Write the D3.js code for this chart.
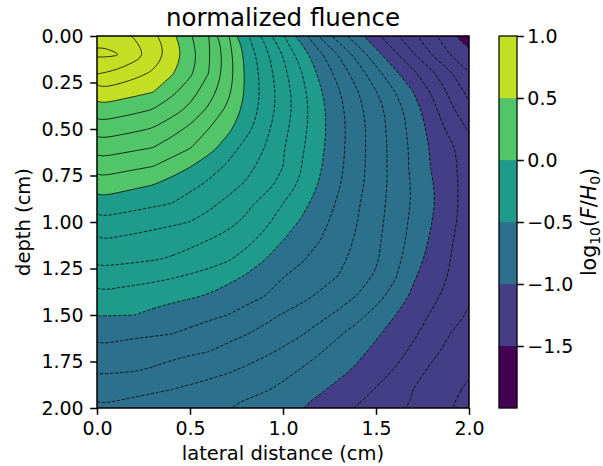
<!DOCTYPE html>
<html>
<head>
<meta charset="utf-8">
<script src="https://cdn.jsdelivr.net/npm/d3@7"></script>
<style>
  html, body { margin: 0; padding: 0; background: #fff; }
  svg { display: block; font-family: "DejaVu Sans", sans-serif; }
</style>
</head>
<body>
<svg id="chart" width="603" height="466"></svg>
<script>
// Sample positions of the fluence grid (cm)
const lateral = [0.0, 0.1, 0.2, 0.3, 0.4, 0.5, 0.6, 0.7, 0.8, 0.9, 1.0,
                 1.1, 1.2, 1.3, 1.4, 1.5, 1.6, 1.7, 1.8, 1.9, 2.0];
const depth   = [0.0, 0.1, 0.2, 0.3, 0.4, 0.5, 0.6, 0.7, 0.8, 0.9, 1.0,
                 1.1, 1.2, 1.3, 1.4, 1.5, 1.6, 1.7, 1.8, 1.9, 2.0];

// log10(F/H0), one row per depth, one column per lateral position
const logFluence = [
  [ 0.780,  0.738,  0.693,  0.627,  0.532,  0.412,  0.300,  0.120, -0.075, -0.223, -0.400, -0.545, -0.714, -0.850, -0.964, -1.077, -1.180, -1.280, -1.373, -1.478, -1.560],
  [ 0.820,  0.810,  0.745,  0.670,  0.567,  0.450,  0.314,  0.150, -0.024, -0.165, -0.306, -0.446, -0.580, -0.708, -0.835, -0.962, -1.078, -1.189, -1.300, -1.400, -1.470],
  [ 0.707,  0.678,  0.635,  0.586,  0.514,  0.420,  0.300,  0.154, -0.013, -0.141, -0.269, -0.397, -0.523, -0.636, -0.750, -0.864, -0.977, -1.080, -1.180, -1.289, -1.400],
  [ 0.578,  0.553,  0.528,  0.503,  0.425,  0.342,  0.248,  0.130, -0.012, -0.131, -0.250, -0.369, -0.488, -0.592, -0.694, -0.796, -0.898, -1.000, -1.111, -1.222, -1.330],
  [ 0.463,  0.441,  0.420,  0.394,  0.339,  0.273,  0.180,  0.079, -0.028, -0.139, -0.249, -0.360, -0.471, -0.571, -0.670, -0.758, -0.850, -0.950, -1.063, -1.178, -1.270],
  [ 0.356,  0.337,  0.317,  0.294,  0.239,  0.177,  0.100,  0.026, -0.066, -0.167, -0.269, -0.370, -0.471, -0.567, -0.659, -0.751, -0.844, -0.936, -1.033, -1.131, -1.210],
  [ 0.253,  0.235,  0.218,  0.200,  0.152,  0.105,  0.040, -0.047, -0.135, -0.200, -0.291, -0.386, -0.479, -0.570, -0.661, -0.749, -0.834, -0.923, -1.013, -1.077, -1.170],
  [ 0.154,  0.137,  0.119,  0.102,  0.055,  0.005, -0.056, -0.111, -0.167, -0.229, -0.300, -0.400, -0.491, -0.578, -0.664, -0.750, -0.836, -0.922, -1.007, -1.073, -1.150],
  [ 0.060,  0.040,  0.020,  0.001, -0.038, -0.075, -0.116, -0.163, -0.211, -0.265, -0.330, -0.419, -0.512, -0.592, -0.672, -0.752, -0.832, -0.912, -0.992, -1.072, -1.140],
  [-0.032, -0.049, -0.066, -0.083, -0.100, -0.138, -0.177, -0.221, -0.274, -0.333, -0.400, -0.469, -0.541, -0.615, -0.689, -0.763, -0.837, -0.911, -0.985, -1.073, -1.140],
  [-0.124, -0.138, -0.152, -0.167, -0.183, -0.201, -0.232, -0.271, -0.318, -0.378, -0.443, -0.512, -0.571, -0.633, -0.700, -0.769, -0.844, -0.923, -1.000, -1.079, -1.140],
  [-0.202, -0.214, -0.228, -0.243, -0.260, -0.279, -0.302, -0.332, -0.373, -0.430, -0.500, -0.550, -0.600, -0.656, -0.713, -0.780, -0.854, -0.933, -1.015, -1.092, -1.145],
  [-0.271, -0.277, -0.284, -0.294, -0.308, -0.328, -0.354, -0.388, -0.435, -0.497, -0.547, -0.591, -0.635, -0.678, -0.729, -0.788, -0.867, -0.956, -1.035, -1.100, -1.160],
  [-0.346, -0.355, -0.366, -0.379, -0.396, -0.418, -0.445, -0.476, -0.512, -0.555, -0.600, -0.634, -0.669, -0.705, -0.758, -0.815, -0.892, -0.991, -1.048, -1.110, -1.175],
  [-0.422, -0.436, -0.449, -0.463, -0.477, -0.490, -0.509, -0.537, -0.566, -0.600, -0.637, -0.676, -0.716, -0.758, -0.805, -0.862, -0.942, -1.018, -1.076, -1.134, -1.190],
  [-0.496, -0.498, -0.499, -0.520, -0.540, -0.560, -0.580, -0.600, -0.636, -0.671, -0.707, -0.741, -0.776, -0.818, -0.870, -0.936, -0.997, -1.054, -1.110, -1.163, -1.210],
  [-0.563, -0.572, -0.581, -0.589, -0.598, -0.620, -0.645, -0.670, -0.695, -0.727, -0.760, -0.793, -0.840, -0.890, -0.938, -0.986, -1.035, -1.085, -1.141, -1.200, -1.235],
  [-0.625, -0.638, -0.650, -0.663, -0.676, -0.689, -0.701, -0.729, -0.756, -0.784, -0.816, -0.856, -0.896, -0.938, -0.979, -1.023, -1.068, -1.119, -1.181, -1.225, -1.260],
  [-0.687, -0.692, -0.697, -0.710, -0.730, -0.750, -0.770, -0.790, -0.816, -0.846, -0.876, -0.907, -0.942, -0.977, -1.016, -1.060, -1.106, -1.165, -1.218, -1.264, -1.290],
  [-0.750, -0.762, -0.774, -0.787, -0.799, -0.817, -0.835, -0.854, -0.872, -0.891, -0.918, -0.953, -0.988, -1.025, -1.064, -1.105, -1.152, -1.200, -1.240, -1.280, -1.315],
  [-0.810, -0.823, -0.835, -0.848, -0.861, -0.873, -0.886, -0.898, -0.923, -0.949, -0.974, -1.000, -1.036, -1.071, -1.107, -1.141, -1.174, -1.210, -1.253, -1.296, -1.335]
];

// Filled bands and the finer line contours
const fillLevels = [-2.0, -1.5, -1.0, -0.5, 0.0, 0.5, 1.0];
const lineLevels = [-1.9, -1.8, -1.7, -1.6, -1.5, -1.4, -1.3, -1.2, -1.1, -1.0,
                    -0.9, -0.8, -0.7, -0.6, -0.5, -0.4, -0.3, -0.2, -0.1, 0.0,
                     0.1,  0.2,  0.3,  0.4,  0.5,  0.6,  0.7,  0.8,  0.9];

// Tick values
const xTicks  = [0.0, 0.5, 1.0, 1.5, 2.0];
const yTicks  = [0.0, 0.25, 0.5, 0.75, 1.0, 1.25, 1.5, 1.75, 2.0];
const cbTicks = [-1.5, -1.0, -0.5, 0.0, 0.5, 1.0];

const svg = d3.select("#chart");

const plot = { left: 97, top: 36, width: 372, height: 372 };
const x = d3.scaleLinear([0, 2], [plot.left, plot.left + plot.width]);
const y = d3.scaleLinear([0, 2], [plot.top, plot.top + plot.height]);

// Band colours: viridis sampled at each band's midpoint
const mids = fillLevels.slice(1).map((v, i) => (v + fillLevels[i]) / 2);
const cNorm = d3.scaleLinear([mids[0], fillLevels[fillLevels.length - 1]], [0, 1]);
const bandColors = mids.map(m => d3.interpolateViridis(cNorm(m)));

// Contour generator on the grid; grid sample i sits at contour coordinate i + 0.5
const nx = lateral.length, ny = depth.length;
const values = logFluence.flat();
const stepX = lateral[1] - lateral[0], stepY = depth[1] - depth[0];
const contours = d3.contours().size([nx, ny]);
const toScreen = ([px, py]) => [
  x(lateral[0] + (px - 0.5) * stepX),
  y(depth[0] + (py - 0.5) * stepY)
];
// Each contour ring drawn as a smooth closed B-spline over its vertices
const ringLine = d3.line().curve(d3.curveBasisClosed);
const contourPath = lvl => contours.contour(values, lvl).coordinates
  .flatMap(poly => poly.map(ring => ringLine(ring.slice(0, -1).map(toScreen))))
  .join("");

svg.append("clipPath").attr("id", "plot-clip")
  .append("rect")
  .attr("x", plot.left).attr("y", plot.top)
  .attr("width", plot.width).attr("height", plot.height);

const field = svg.append("g").attr("clip-path", "url(#plot-clip)");

// Lowest band as background, then each higher band painted on top
field.append("rect")
  .attr("x", plot.left).attr("y", plot.top)
  .attr("width", plot.width).attr("height", plot.height)
  .attr("fill", bandColors[0]);

field.selectAll("path.band")
  .data(fillLevels.slice(1, -1).map((lvl, i) => ({ lvl, color: bandColors[i + 1] })))
  .join("path")
  .attr("class", "band")
  .attr("d", d => contourPath(d.lvl))
  .attr("fill-rule", "evenodd")
  .attr("fill", d => d.color)
  .attr("stroke", d => d.color)
  .attr("stroke-width", 0.4);

// Thin black isolines, dashed for negative levels
field.selectAll("path.iso")
  .data(lineLevels)
  .join("path")
  .attr("class", "iso")
  .attr("d", lvl => contourPath(lvl))
  .attr("fill", "none")
  .attr("stroke", "#000")
  .attr("stroke-opacity", 0.85)
  .attr("stroke-width", 0.9)
  .attr("stroke-dasharray", lvl => lvl < -1e-9 ? "3.4,1.6" : null);

// Axes
const tickFont = 19;
const styleAxis = g => {
  g.attr("font-size", tickFont).attr("font-family", '"DejaVu Sans", sans-serif');
  g.selectAll(".tick line").attr("stroke", "#000").attr("stroke-width", 1.5);
  g.selectAll(".tick text").attr("fill", "#000");
  g.select(".domain").remove();
};

svg.append("g")
  .attr("transform", `translate(0,${plot.top + plot.height})`)
  .call(d3.axisBottom(x).tickValues(xTicks).tickFormat(d3.format(".1f"))
    .tickSize(6.8).tickPadding(6.5))
  .call(styleAxis);

svg.append("g")
  .attr("transform", `translate(${plot.left},0)`)
  .call(d3.axisLeft(y).tickValues(yTicks).tickFormat(d3.format(".2f"))
    .tickSize(6.8).tickPadding(6.5))
  .call(styleAxis);

// Plot frame
svg.append("rect")
  .attr("x", plot.left).attr("y", plot.top)
  .attr("width", plot.width).attr("height", plot.height)
  .attr("fill", "none").attr("stroke", "#000").attr("stroke-width", 1.5);

// Title and axis labels
svg.append("text")
  .attr("x", plot.left + plot.width / 2).attr("y", 26)
  .attr("text-anchor", "middle").attr("font-size", 24.5).attr("fill", "#000")
  .text("normalized fluence");

svg.append("text")
  .attr("x", plot.left + plot.width / 2).attr("y", 460)
  .attr("text-anchor", "middle").attr("font-size", 19.5).attr("fill", "#000")
  .text("lateral distance (cm)");

svg.append("text")
  .attr("transform", `translate(30,${plot.top + plot.height / 2}) rotate(-90)`)
  .attr("text-anchor", "middle").attr("font-size", 19.5).attr("fill", "#000")
  .text("depth (cm)");

// Colorbar
const cb = { left: 499, width: 18 };
const cbY = d3.scaleLinear([fillLevels[0], fillLevels[fillLevels.length - 1]],
                           [plot.top + plot.height, plot.top]);

svg.append("g").selectAll("rect")
  .data(bandColors.map((c, i) => ({ lo: fillLevels[i], hi: fillLevels[i + 1], c })))
  .join("rect")
  .attr("x", cb.left).attr("width", cb.width)
  .attr("y", d => cbY(d.hi)).attr("height", d => cbY(d.lo) - cbY(d.hi))
  .attr("fill", d => d.c).attr("stroke", d => d.c).attr("stroke-width", 0.4);

svg.append("rect")
  .attr("x", cb.left).attr("y", plot.top)
  .attr("width", cb.width).attr("height", plot.height)
  .attr("fill", "none").attr("stroke", "#000").attr("stroke-width", 1.2);

svg.append("g")
  .attr("transform", `translate(${cb.left + cb.width},0)`)
  .call(d3.axisRight(cbY).tickValues(cbTicks).tickFormat(d3.format(".1f"))
    .tickSize(6.8).tickPadding(3.5))
  .call(styleAxis);

// Colorbar label: log10(F/H0)
const cbLabel = svg.append("text")
  .attr("transform", `translate(596,${plot.top + plot.height / 2}) rotate(-90)`)
  .attr("text-anchor", "middle").attr("font-size", 20.5).attr("fill", "#000");
cbLabel.append("tspan").text("log");
cbLabel.append("tspan").attr("font-size", 14).attr("dy", 3.5).text("10");
cbLabel.append("tspan").attr("dy", -3.5).text("(");
cbLabel.append("tspan").attr("font-style", "italic").text("F");
cbLabel.append("tspan").text("/");
cbLabel.append("tspan").attr("font-style", "italic").text("H");
cbLabel.append("tspan").attr("font-size", 14).attr("dy", 3.5).text("0");
cbLabel.append("tspan").attr("dy", -3.5).text(")");
</script>
</body>
</html>
